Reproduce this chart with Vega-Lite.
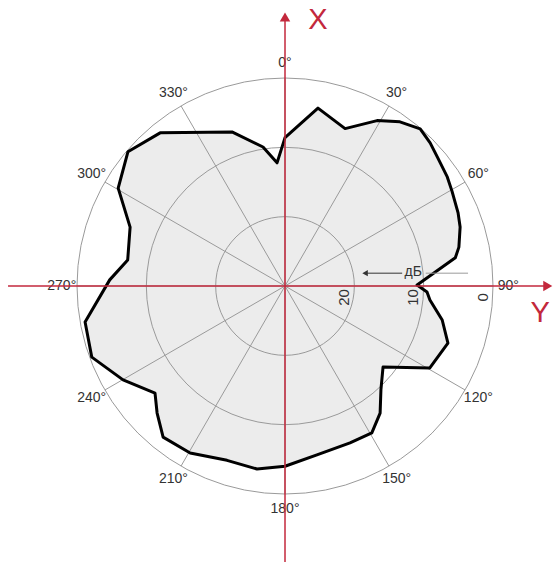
{
  "$schema": "https://vega.github.io/schema/vega-lite/v6.json",
  "width": 554,
  "height": 565,
  "autosize": {"type": "fit", "contains": "padding"},
  "padding": 0,
  "background": "white",
  "config": {"view": {"stroke": null}, "font": "Liberation Sans"},
  "datasets": {
    "pattern": [
      {"deg": 0, "db": 8.6}, {"deg": 10.5, "db": 3.9}, {"deg": 20.9, "db": 5.7}, {"deg": 29.1, "db": 2.7},
      {"deg": 35.0, "db": 1.1}, {"deg": 40.7, "db": 0.1}, {"deg": 45.4, "db": 0.6}, {"deg": 49.7, "db": 1.2},
      {"deg": 56.1, "db": 1.8}, {"deg": 60.4, "db": 2.3}, {"deg": 67.1, "db": 2.9}, {"deg": 71.4, "db": 3.35},
      {"deg": 77.4, "db": 4.3}, {"deg": 80.6, "db": 5.1}, {"deg": 89.6, "db": 10.95}, {"deg": 92.4, "db": 9.5},
      {"deg": 95.5, "db": 9.0}, {"deg": 102.2, "db": 6.8}, {"deg": 109.3, "db": 5.1}, {"deg": 119.5, "db": 6.0},
      {"deg": 129.6, "db": 11.65}, {"deg": 137.3, "db": 9.6}, {"deg": 143.2, "db": 7.1}, {"deg": 149.4, "db": 5.4},
      {"deg": 157.5, "db": 5.5}, {"deg": 169.3, "db": 5.2}, {"deg": 180, "db": 4.0}, {"deg": 188.7, "db": 3.3},
      {"deg": 198.4, "db": 3.5}, {"deg": 209.6, "db": 2.3}, {"deg": 218.9, "db": 2.0}, {"deg": 225.2, "db": 4.0},
      {"deg": 230.5, "db": 5.7}, {"deg": 239.9, "db": 3.0}, {"deg": 249.8, "db": 0.3}, {"deg": 259.8, "db": 0.7},
      {"deg": 272.0, "db": 4.7}, {"deg": 279.4, "db": 7.0}, {"deg": 290.8, "db": 6.1}, {"deg": 300.4, "db": 2.1},
      {"deg": 310.5, "db": 0.2}, {"deg": 320.8, "db": 1.5}, {"deg": 341.0, "db": 6.5}, {"deg": 351.0, "db": 9.7},
      {"deg": 356.3, "db": 12.2}
    ],
    "spokes": [
      {"deg": 0, "label": "0°"}, {"deg": 30, "label": "30°"}, {"deg": 60, "label": "60°"}, {"deg": 90, "label": "90°"},
      {"deg": 120, "label": "120°"}, {"deg": 150, "label": "150°"}, {"deg": 180, "label": "180°"}, {"deg": 210, "label": "210°"},
      {"deg": 240, "label": "240°"}, {"deg": 270, "label": "270°"}, {"deg": 300, "label": "300°"}, {"deg": 330, "label": "330°"}
    ],
    "rings": [{"db": 0, "label": "0"}, {"db": 10, "label": "10"}, {"db": 20, "label": "20"}]
  },
  "layer": [
    {
      "data": {"name": "pattern"},
      "transform": [
        {"calculate": "(30-datum.db)*sin(datum.deg*PI/180)", "as": "px"},
        {"calculate": "(30-datum.db)*cos(datum.deg*PI/180)", "as": "py"}
      ],
      "mark": {"type": "line", "interpolate": "linear-closed", "fill": "#ececec", "strokeOpacity": 0},
      "encoding": {
        "x": {"field": "px", "type": "quantitative", "scale": {"domain": [-41.11, 38.8], "nice": false, "zero": false}, "axis": null},
        "y": {"field": "py", "type": "quantitative", "scale": {"domain": [-40.24, 41.25], "nice": false, "zero": false}, "axis": null},
        "order": {"field": "deg", "type": "quantitative"}
      }
    },
    {
      "data": {"name": "rings"},
      "transform": [{"calculate": "30-datum.db", "as": "r"}, {"calculate": "0", "as": "c"}],
      "mark": {"type": "point", "shape": "circle", "filled": false, "stroke": "#9a9a9a", "strokeWidth": 1, "opacity": 1},
      "encoding": {
        "x": {"field": "c", "type": "quantitative", "scale": {"domain": [-41.11, 38.8], "nice": false, "zero": false}, "axis": null},
        "y": {"field": "c", "type": "quantitative", "scale": {"domain": [-40.24, 41.25], "nice": false, "zero": false}, "axis": null},
        "size": {"field": "r", "type": "quantitative", "scale": {"type": "pow", "exponent": 2, "domain": [0, 30], "range": [0, 173056], "zero": true}, "legend": null}
      }
    },
    {
      "data": {"name": "spokes"},
      "transform": [
        {"calculate": "0", "as": "c"},
        {"calculate": "30*sin(datum.deg*PI/180)", "as": "sx"},
        {"calculate": "30*cos(datum.deg*PI/180)", "as": "sy"}
      ],
      "mark": {"type": "rule", "stroke": "#9a9a9a", "strokeWidth": 1},
      "encoding": {
        "x": {"field": "c", "type": "quantitative", "scale": {"domain": [-41.11, 38.8], "nice": false, "zero": false}, "axis": null},
        "y": {"field": "c", "type": "quantitative", "scale": {"domain": [-40.24, 41.25], "nice": false, "zero": false}, "axis": null},
        "x2": {"field": "sx"},
        "y2": {"field": "sy"}
      }
    },
    {
      "data": {"name": "pattern"},
      "transform": [
        {"calculate": "(30-datum.db)*sin(datum.deg*PI/180)", "as": "px"},
        {"calculate": "(30-datum.db)*cos(datum.deg*PI/180)", "as": "py"}
      ],
      "mark": {"type": "line", "interpolate": "linear-closed", "stroke": "#000000", "strokeWidth": 3, "strokeJoin": "round"},
      "encoding": {
        "x": {"field": "px", "type": "quantitative", "scale": {"domain": [-41.11, 38.8], "nice": false, "zero": false}, "axis": null},
        "y": {"field": "py", "type": "quantitative", "scale": {"domain": [-40.24, 41.25], "nice": false, "zero": false}, "axis": null},
        "order": {"field": "deg", "type": "quantitative"}
      }
    },
    {
      "data": {"name": "spokes"},
      "transform": [
        {"calculate": "32.2*sin(datum.deg*PI/180)", "as": "lx"},
        {"calculate": "32.2*cos(datum.deg*PI/180)", "as": "ly"}
      ],
      "mark": {"type": "text", "fontSize": 14, "fill": "#333333", "align": "center", "baseline": "middle"},
      "encoding": {
        "x": {"field": "lx", "type": "quantitative", "scale": {"domain": [-41.11, 38.8], "nice": false, "zero": false}, "axis": null},
        "y": {"field": "ly", "type": "quantitative", "scale": {"domain": [-40.24, 41.25], "nice": false, "zero": false}, "axis": null},
        "text": {"field": "label", "type": "nominal"}
      }
    },
    {
      "data": {"name": "rings"},
      "transform": [{"calculate": "28.5-datum.db", "as": "tx"}, {"calculate": "-1.65", "as": "ty"}],
      "mark": {"type": "text", "fontSize": 15, "fill": "#333333", "align": "center", "baseline": "middle", "angle": 270},
      "encoding": {
        "x": {"field": "tx", "type": "quantitative", "scale": {"domain": [-41.11, 38.8], "nice": false, "zero": false}, "axis": null},
        "y": {"field": "ty", "type": "quantitative", "scale": {"domain": [-40.24, 41.25], "nice": false, "zero": false}, "axis": null},
        "text": {"field": "label", "type": "nominal"}
      }
    },
    {
      "data": {"values": [{"name": "dB arrow", "color": "dark"}]},
      "transform": [{"calculate": "11.6", "as": "a"}, {"calculate": "16.9", "as": "b"}, {"calculate": "1.85", "as": "h"}],
      "mark": {"type": "rule", "stroke": "#333333", "strokeWidth": 1},
      "encoding": {
        "x": {"field": "a", "type": "quantitative", "scale": {"domain": [-41.11, 38.8], "nice": false, "zero": false}, "axis": null},
        "x2": {"field": "b"},
        "y": {"field": "h", "type": "quantitative", "scale": {"domain": [-40.24, 41.25], "nice": false, "zero": false}, "axis": null}
      }
    },
    {
      "data": {"values": [{"name": "dB line"}]},
      "transform": [{"calculate": "20.3", "as": "a"}, {"calculate": "26.4", "as": "b"}, {"calculate": "1.85", "as": "h"}],
      "mark": {"type": "rule", "stroke": "#9a9a9a", "strokeWidth": 1},
      "encoding": {
        "x": {"field": "a", "type": "quantitative", "scale": {"domain": [-41.11, 38.8], "nice": false, "zero": false}, "axis": null},
        "x2": {"field": "b"},
        "y": {"field": "h", "type": "quantitative", "scale": {"domain": [-40.24, 41.25], "nice": false, "zero": false}, "axis": null}
      }
    },
    {
      "data": {"values": [{"name": "X axis"}]},
      "transform": [{"calculate": "0", "as": "a"}, {"calculate": "38.4", "as": "h1"}, {"calculate": "-39.8", "as": "h2"}],
      "mark": {"type": "rule", "stroke": "#c3283c", "strokeWidth": 1.5},
      "encoding": {
        "x": {"field": "a", "type": "quantitative", "scale": {"domain": [-41.11, 38.8], "nice": false, "zero": false}, "axis": null},
        "y": {"field": "h1", "type": "quantitative", "scale": {"domain": [-40.24, 41.25], "nice": false, "zero": false}, "axis": null},
        "y2": {"field": "h2"}
      }
    },
    {
      "data": {"values": [{"name": "Y axis"}]},
      "transform": [{"calculate": "-39.95", "as": "a"}, {"calculate": "37.6", "as": "b"}, {"calculate": "0", "as": "h"}],
      "mark": {"type": "rule", "stroke": "#c3283c", "strokeWidth": 1.5},
      "encoding": {
        "x": {"field": "a", "type": "quantitative", "scale": {"domain": [-41.11, 38.8], "nice": false, "zero": false}, "axis": null},
        "x2": {"field": "b"},
        "y": {"field": "h", "type": "quantitative", "scale": {"domain": [-40.24, 41.25], "nice": false, "zero": false}, "axis": null}
      }
    },
    {
      "data": {"values": [
        {"shape": "triangle-up", "color": "red", "size": "big", "kx": 0, "ky": 38.8},
        {"shape": "triangle-right", "color": "red", "size": "big", "kx": 37.9, "ky": 0},
        {"shape": "triangle-left", "color": "dark", "size": "small", "kx": 11.55, "ky": 1.85}
      ]},
      "mark": {"type": "point", "filled": true, "strokeWidth": 0, "opacity": 1},
      "encoding": {
        "x": {"field": "kx", "type": "quantitative", "scale": {"domain": [-41.11, 38.8], "nice": false, "zero": false}, "axis": null},
        "y": {"field": "ky", "type": "quantitative", "scale": {"domain": [-40.24, 41.25], "nice": false, "zero": false}, "axis": null},
        "shape": {"field": "shape", "type": "nominal", "scale": null},
        "color": {"field": "color", "type": "nominal", "scale": {"domain": ["red", "dark"], "range": ["#c3283c", "#333333"]}, "legend": null},
        "size": {"field": "size", "type": "nominal", "scale": {"domain": ["big", "small"], "range": [110, 40]}, "legend": null}
      }
    },
    {
      "data": {"values": [
        {"text": "X", "color": "red", "size": "big", "kx": 4.76, "ky": 38.3},
        {"text": "Y", "color": "red", "size": "big", "kx": 36.8, "ky": -3.9},
        {"text": "дБ", "color": "dark", "size": "small", "kx": 18.5, "ky": 1.95}
      ]},
      "mark": {"type": "text", "align": "center", "baseline": "middle"},
      "encoding": {
        "x": {"field": "kx", "type": "quantitative", "scale": {"domain": [-41.11, 38.8], "nice": false, "zero": false}, "axis": null},
        "y": {"field": "ky", "type": "quantitative", "scale": {"domain": [-40.24, 41.25], "nice": false, "zero": false}, "axis": null},
        "text": {"field": "text", "type": "nominal"},
        "color": {"field": "color", "type": "nominal", "scale": {"domain": ["red", "dark"], "range": ["#c3283c", "#333333"]}, "legend": null},
        "size": {"field": "size", "type": "nominal", "scale": {"domain": ["big", "small"], "range": [29, 14]}, "legend": null}
      }
    }
  ],
  "resolve": {"scale": {"color": "independent", "size": "independent"}}
}
